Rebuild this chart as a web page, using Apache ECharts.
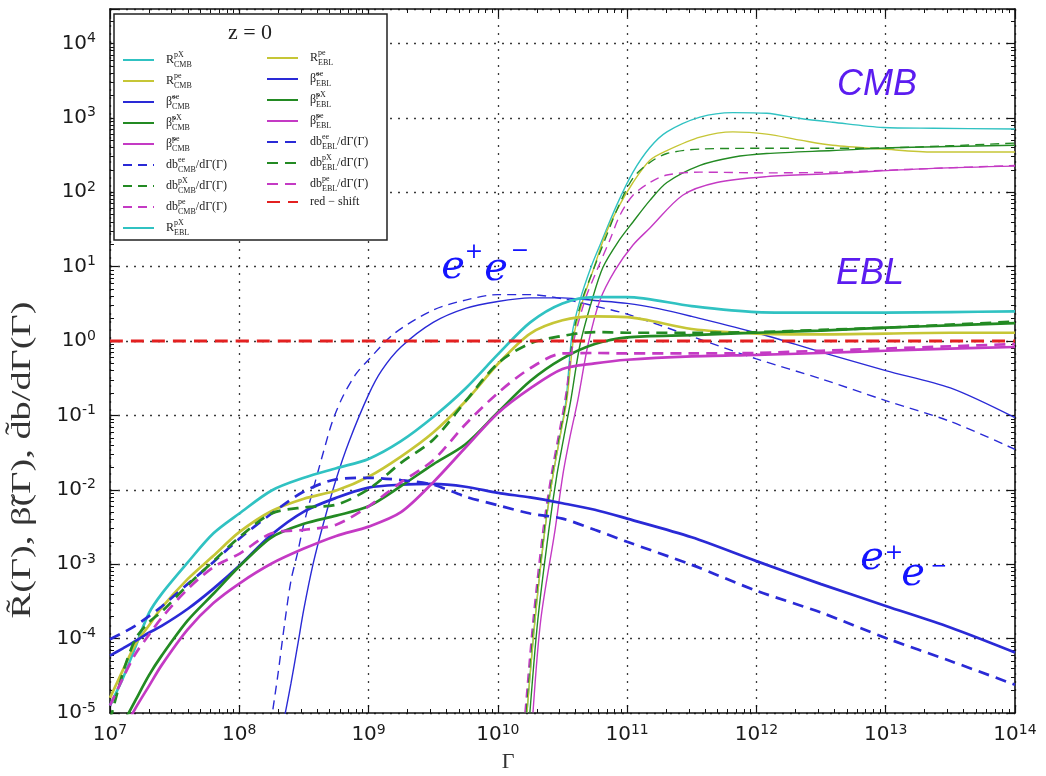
<!DOCTYPE html>
<html>
<head>
<meta charset="utf-8">
<script src="https://cdn.jsdelivr.net/npm/echarts@6/dist/echarts.min.js"></script>
<style>
  html, body { margin: 0; padding: 0; background: #fff; }
  #chart { width: 1046px; height: 776px; }
</style>
</head>
<body>
<div id="chart"></div>
<script>
// ---- Lorentz factor grid shared by the EBL curves ----
const gammaEBL = [1e7, 1.26e7, 1.58e7, 2.0e7, 2.51e7, 3.98e7, 6.31e7, 1e8, 1.78e8, 3.16e8, 5.62e8,
  1e9, 1.78e9, 3.16e9, 5.62e9, 1e10, 1.78e10, 3.16e10, 5.62e10, 1e11, 3.16e11, 1e12, 3.16e12,
  1e13, 3.16e13, 1e14];

const R_pX_EBL = [1.26e-5, 2.95e-5, 7.9e-5, 2.2e-4, 4.0e-4, 1.05e-3, 2.6e-3, 4.8e-3, 9.8e-3, 1.45e-2, 1.95e-2,
  2.6e-2, 4.5e-2, 9.5e-2, 0.23, 0.66, 1.78, 3.2, 3.9, 3.9, 2.95, 2.45, 2.4, 2.4, 2.45, 2.5];
const R_pe_EBL = [1.6e-5, 3.8e-5, 8.5e-5, 1.5e-4, 2.6e-4, 6.3e-4, 1.3e-3, 2.7e-3, 5.2e-3, 7.6e-3, 9.8e-3,
  1.5e-2, 2.8e-2, 5.9e-2, 0.155, 0.49, 1.26, 1.9, 2.14, 2.1, 1.45, 1.26, 1.23, 1.26, 1.29, 1.29];
const beta_pX_EBL = [3.2e-6, 7.1e-6, 1.5e-5, 3.2e-5, 5.9e-5, 1.74e-4, 4.0e-4, 9.3e-4, 2.3e-3, 3.5e-3, 4.5e-3,
  6.0e-3, 1.12e-2, 2.2e-2, 4.1e-2, 0.11, 0.29, 0.58, 0.91, 1.12, 1.2, 1.29, 1.38, 1.51, 1.62, 1.74];
const db_pX_EBL = [7.9e-6, 3.5e-5, 1.0e-4, 1.66e-4, 2.3e-4, 5.2e-4, 1.1e-3, 2.3e-3, 4.8e-3, 5.8e-3, 6.3e-3,
  1.02e-2, 2.3e-2, 4.7e-2, 0.155, 0.5, 0.93, 1.17, 1.32, 1.29, 1.29, 1.32, 1.41, 1.51, 1.66, 1.82];
const beta_pe_EBL = [2.5e-6, 5.6e-6, 1.17e-5, 2.3e-5, 4.4e-5, 1.32e-4, 3.0e-4, 5.5e-4, 1.02e-3, 1.62e-3, 2.4e-3,
  3.2e-3, 5.0e-3, 1.26e-2, 3.7e-2, 0.107, 0.23, 0.42, 0.5, 0.56, 0.62, 0.65, 0.69, 0.74, 0.79, 0.83];
const db_pe_EBL = [1.26e-5, 2.95e-5, 6.3e-5, 1.12e-4, 1.9e-4, 4.6e-4, 9.1e-4, 1.38e-3, 2.6e-3, 2.9e-3, 3.4e-3,
  6.0e-3, 1.26e-2, 2.5e-2, 7.6e-2, 0.2, 0.43, 0.68, 0.69, 0.68, 0.68, 0.69, 0.74, 0.79, 0.85, 0.91];
const beta_ee_EBL = [5.9e-5, 7.4e-5, 9.3e-5, 1.2e-4, 1.48e-4, 2.5e-4, 4.7e-4, 9.5e-4, 2.5e-3, 5.1e-3, 7.8e-3,
  1.07e-2, 1.17e-2, 1.2e-2, 1.1e-2, 9.1e-3, 7.9e-3, 6.6e-3, 5.4e-3, 4.1e-3, 2.3e-3, 1.1e-3, 5.4e-4,
  2.75e-4, 1.41e-4, 6.5e-5];
const db_ee_EBL = [9.8e-5, 1.2e-4, 1.5e-4, 2.0e-4, 2.7e-4, 5.4e-4, 1.07e-3, 2.2e-3, 4.8e-3, 9.5e-3, 1.38e-2,
  1.45e-2, 1.35e-2, 1.17e-2, 8.1e-3, 6.2e-3, 4.8e-3, 4.1e-3, 2.9e-3, 2.0e-3, 9.8e-4, 4.4e-4, 2.24e-4,
  1.02e-4, 5.0e-5, 2.4e-5];

// ---- CMB curves ----
const gamma_beta_ee_CMB = [2.24e8, 2.51e8, 2.82e8, 3.16e8, 3.72e8, 4.47e8, 5.62e8, 7.08e8, 1e9, 1.26e9, 1.78e9,
  3.16e9, 5.62e9, 1e10, 1.78e10, 3.16e10, 5.62e10, 1e11, 1.78e11, 3.16e11, 1e12, 3.16e12, 1e13, 3.16e13, 1e14];
const beta_ee_CMB = [8.9e-6, 2.5e-5, 7.9e-5, 2.5e-4, 1e-3, 3.5e-3, 1.4e-2, 4.5e-2, 0.19, 0.4, 0.83,
  1.78, 2.75, 3.4, 3.8, 3.8, 3.5, 3.2, 2.7, 2.14, 1.29, 0.71, 0.4, 0.234, 0.093];

const gamma_db_ee_CMB = [1.82e8, 2.0e8, 2.24e8, 2.51e8, 2.82e8, 3.16e8, 3.72e8, 4.47e8, 5.25e8, 6.31e8, 7.94e8,
  1e9, 1.58e9, 3.16e9, 5.62e9, 1e10, 1.78e10, 3.16e10, 5.62e10, 1e11, 3.16e11, 1e12, 3.16e12, 1e13, 3.16e13, 1e14];
const db_ee_CMB = [1.12e-5, 3.5e-5, 1.58e-4, 6.0e-4, 1.41e-3, 3.5e-3, 1e-2, 3.2e-2, 8.3e-2, 0.178, 0.355,
  0.56, 1.26, 2.6, 3.55, 4.2, 4.2, 3.7, 2.95, 2.3, 1.15, 0.575, 0.31, 0.158, 0.083, 0.035];

const gamma_R_pX_CMB = [1.68e10, 1.94e10, 2.31e10, 2.67e10, 3.02e10, 3.37e10, 3.74e10, 4.32e10, 5.25e10, 6.17e10,
  8.34e10, 1.11e11, 1.5e11, 2.03e11, 3.66e11, 6.58e11, 1.2e12, 2.19e12, 3.89e12, 9.55e12, 2.34e13, 1e14];
const R_pX_CMB = [1.02e-5, 1.82e-4, 2.9e-3, 1.58e-2, 5.1e-2, 0.162, 1.2, 3.55, 9.8, 19.5,
  68, 186, 398, 646, 1020, 1175, 1150, 977, 871, 741, 724, 708];

const gamma_R_pe_CMB = [1.68e10, 1.94e10, 2.31e10, 2.67e10, 3.02e10, 3.42e10, 3.88e10, 4.55e10, 5.45e10, 6.73e10,
  8.34e10, 1.11e11, 1.5e11, 2.03e11, 3.66e11, 6.58e11, 1.2e12, 2.19e12, 3.89e12, 9.55e12, 2.34e13, 1e14];
const R_pe_CMB = [1.02e-5, 1.82e-4, 2.9e-3, 1.58e-2, 5.1e-2, 0.162, 1.2, 3.55, 8.9, 26,
  58, 135, 269, 363, 550, 646, 603, 501, 427, 380, 347, 347];

const gamma_beta_pX_CMB = [1.77e10, 2.04e10, 2.48e10, 2.86e10, 3.24e10, 3.67e10, 4.32e10, 5.35e10, 6.5e10, 8.49e10,
  1.11e11, 1.5e11, 2.03e11, 3.66e11, 6.58e11, 1.2e12, 3.89e12, 1.29e13, 1e14];
const beta_pX_CMB = [1.02e-5, 1.82e-4, 2.9e-3, 1.58e-2, 5.1e-2, 0.162, 0.89, 3.55, 9.8, 21.4,
  39.8, 77.6, 135, 229, 295, 331, 363, 398, 427];

const gamma_db_pX_CMB = [1.65e10, 1.9e10, 2.28e10, 2.62e10, 2.97e10, 3.37e10, 3.81e10, 4.48e10, 5.45e10, 6.73e10,
  8.34e10, 1.11e11, 1.5e11, 2.03e11, 3.66e11, 1.2e12, 3.89e12, 1.29e13, 1e14];
const db_pX_CMB = [1.02e-5, 1.82e-4, 2.9e-3, 1.58e-2, 5.1e-2, 0.162, 1.2, 3.55, 8.9, 22.9,
  58, 155, 251, 331, 380, 389, 389, 398, 457];

const gamma_beta_pe_CMB = [1.87e10, 2.15e10, 2.77e10, 3.18e10, 3.61e10, 4.16e10, 4.98e10, 6.17e10, 8.05e10,
  1.11e11, 1.5e11, 2.69e11, 4.94e11, 1.2e12, 3.89e12, 2.34e13, 1e14];
const beta_pe_CMB = [1.02e-5, 1.82e-4, 2.9e-3, 1.58e-2, 5.1e-2, 0.162, 0.89, 3.55, 8.9,
  19.5, 33, 91, 135, 162, 178, 209, 224];

const gamma_db_pe_CMB = [1.62e10, 1.87e10, 2.23e10, 2.58e10, 2.92e10, 3.3e10, 3.81e10, 4.72e10, 5.83e10, 7.36e10,
  8.79e10, 1.11e11, 1.5e11, 2.03e11, 3.66e11, 1.2e12, 3.89e12, 2.34e13, 1e14];
const db_pe_CMB = [1.02e-5, 1.82e-4, 2.9e-3, 1.58e-2, 5.1e-2, 0.162, 0.89, 3.55, 8.9, 22.9,
  49, 91, 135, 170, 186, 182, 186, 209, 229];

// ---- red-shift reference level ----
const gamma_redshift = [1e7, 1e14];
const redshift = [1, 1];

// ---- axis ranges ----
const gammaRange = [1e7, 1e14];
const valueRange = [1e-5, 2.9e4];

// ---- styling ----
const C = {
  cyan: '#30c2c2', yellow: '#c6c636', blue: '#2a2ad6', green: '#238a23', magenta: '#c43ac4', red: '#e32020'
};
const THIN = 1.4, THICK = 2.7;
const DASH_THIN = [9, 6], DASH_THICK = [11, 7];
const SERIF = "'Liberation Serif','DejaVu Serif',serif";
const SANS = "'DejaVu Sans','Liberation Sans',sans-serif";

function pairs(g, v) { return g.map((x, i) => [x, v[i]]); }

function curve(name, g, v, color, width, dash) {
  return {
    name: name, type: 'line', data: pairs(g, v),
    symbol: 'none', showSymbol: false, smooth: 0.3,
    color: color, silent: true, clip: true,
    lineStyle: { color: color, width: width, type: dash || 'solid' },
    emphasis: { disabled: true }
  };
}

// Legend names use "base|super|sub|tail" so the label can stack indices.
const series = [
  curve('R|pX|CMB|', gamma_R_pX_CMB, R_pX_CMB, C.cyan, THIN),
  curve('R|pe|CMB|', gamma_R_pe_CMB, R_pe_CMB, C.yellow, THIN),
  curve('β̃|ee|CMB|', gamma_beta_ee_CMB, beta_ee_CMB, C.blue, THIN),
  curve('β̃|pX|CMB|', gamma_beta_pX_CMB, beta_pX_CMB, C.green, THIN),
  curve('β̃|pe|CMB|', gamma_beta_pe_CMB, beta_pe_CMB, C.magenta, THIN),
  curve('db|ee|CMB|/dΓ(Γ)', gamma_db_ee_CMB, db_ee_CMB, C.blue, THIN, DASH_THIN),
  curve('db|pX|CMB|/dΓ(Γ)', gamma_db_pX_CMB, db_pX_CMB, C.green, THIN, DASH_THIN),
  curve('db|pe|CMB|/dΓ(Γ)', gamma_db_pe_CMB, db_pe_CMB, C.magenta, THIN, DASH_THIN),
  curve('R|pX|EBL|', gammaEBL, R_pX_EBL, C.cyan, THICK),
  curve('R|pe|EBL|', gammaEBL, R_pe_EBL, C.yellow, THICK),
  curve('β̃|ee|EBL|', gammaEBL, beta_ee_EBL, C.blue, THICK),
  curve('β̃|pX|EBL|', gammaEBL, beta_pX_EBL, C.green, THICK),
  curve('β̃|pe|EBL|', gammaEBL, beta_pe_EBL, C.magenta, THICK),
  curve('db|ee|EBL|/dΓ(Γ)', gammaEBL, db_ee_EBL, C.blue, THICK, DASH_THICK),
  curve('db|pX|EBL|/dΓ(Γ)', gammaEBL, db_pX_EBL, C.green, THICK, DASH_THICK),
  curve('db|pe|EBL|/dΓ(Γ)', gammaEBL, db_pe_EBL, C.magenta, THICK, DASH_THICK),
  curve('red − shift', gamma_redshift, redshift, C.red, 3.2, [13, 8])
];
const names = series.map(s => s.name);

function legendLabel(name) {
  const p = name.split('|');
  if (p.length === 1) return '{b|' + name + '}';
  return '{b|' + p[0] + '}{p|' + p[1] + '}{q|' + p[2] + '}' + (p[3] ? '{b|' + p[3] + '}' : '');
}
const legendRich = {
  b: { fontFamily: SERIF, fontSize: 12, lineHeight: 18, color: '#222' },
  p: { fontFamily: SERIF, fontSize: 8, lineHeight: 9, color: '#222', verticalAlign: 'top', width: 0.01 },
  q: { fontFamily: SERIF, fontSize: 8, lineHeight: 9, color: '#222', verticalAlign: 'bottom' }
};
function legendBlock(data, left, top) {
  return {
    data: data, left: left, top: top, orient: 'vertical', padding: 0,
    itemWidth: 31, itemHeight: 12, itemGap: 3, selectedMode: false, z: 20,
    itemStyle: { opacity: 0 },
    formatter: legendLabel,
    textStyle: { rich: legendRich, padding: [0, 0, 0, 7] }
  };
}

function expLabel(v) { return '{b|10}{s|' + Math.round(Math.log10(v)) + '}'; }
const tickRich = {
  b: { fontFamily: SANS, fontSize: 20, lineHeight: 24, color: '#1a1a1a' },
  s: { fontFamily: SANS, fontSize: 14, lineHeight: 14, color: '#1a1a1a', verticalAlign: 'top' }
};
const gridLine = { show: true, lineStyle: { color: '#3a3a3a', width: 1.3, type: [2, 6] } };
const frameLine = { show: true, lineStyle: { color: '#111', width: 1.6 } };
const majorTick = { show: true, inside: true, length: 8, lineStyle: { color: '#111', width: 1.2 } };
const minorTick = { show: true, splitNumber: 9, length: 4, lineStyle: { color: '#111', width: 1 } };

const chart = echarts.init(document.getElementById('chart'), null, { renderer: 'canvas' });
chart.setOption({
  animation: false,
  backgroundColor: '#fff',
  grid: { left: 110, right: 31, top: 9, bottom: 63, containLabel: false },
  xAxis: [
    { type: 'log', logBase: 10, min: gammaRange[0], max: gammaRange[1], splitNumber: 7,
      axisLine: frameLine, axisTick: majorTick, minorTick: Object.assign({ inside: true }, minorTick),
      splitLine: gridLine,
      axisLabel: { margin: 10, formatter: expLabel, rich: tickRich } },
    { type: 'log', logBase: 10, min: gammaRange[0], max: gammaRange[1], splitNumber: 7, position: 'top',
      axisLine: frameLine, axisTick: majorTick, minorTick: Object.assign({ inside: true }, minorTick),
      splitLine: { show: false }, axisLabel: { show: false } }
  ],
  yAxis: [
    { type: 'log', logBase: 10, min: valueRange[0], max: valueRange[1], splitNumber: 10,
      axisLine: frameLine, axisTick: majorTick, minorTick: Object.assign({ inside: true }, minorTick),
      splitLine: gridLine,
      axisLabel: { margin: 14, formatter: expLabel, rich: tickRich, showMaxLabel: false } },
    { type: 'log', logBase: 10, min: valueRange[0], max: valueRange[1], splitNumber: 10, position: 'right',
      axisLine: frameLine, axisTick: majorTick, minorTick: Object.assign({ inside: true }, minorTick),
      splitLine: { show: false }, axisLabel: { show: false } }
  ],
  legend: [legendBlock(names.slice(0, 9), 122, 51), legendBlock(names.slice(9), 266, 49)],
  graphic: [
    { type: 'rect', z: 10, shape: { x: 114, y: 14, width: 273, height: 226 },
      style: { fill: '#fff', stroke: '#222', lineWidth: 1.5 } },
    { type: 'text', z: 11, x: 250, y: 33,
      style: { text: 'z = 0', font: '22px ' + SERIF, fill: '#222', align: 'center', verticalAlign: 'middle' } },
    { type: 'text', z: 11, x: 23, y: 460, rotation: Math.PI / 2, scaleX: 1.42,
      style: { text: 'R̃(Γ), β̃(Γ), d̃b/dΓ(Γ)', font: '27px ' + SERIF, fill: '#333', align: 'center', verticalAlign: 'middle' } },
    { type: 'text', z: 11, x: 508, y: 762,
      style: { text: 'Γ', font: '22px ' + SERIF, fill: '#333', align: 'center', verticalAlign: 'middle' } },
    { type: 'text', z: 11, x: 877, y: 85,
      style: { text: 'CMB', font: 'italic 36px ' + "'Liberation Sans',sans-serif", fill: '#5b1cf0', align: 'center', verticalAlign: 'middle' } },
    { type: 'text', z: 11, x: 870, y: 274,
      style: { text: 'EBL', font: 'italic 36px ' + "'Liberation Sans',sans-serif", fill: '#5b1cf0', align: 'center', verticalAlign: 'middle' } },
    { type: 'text', z: 11, x: 453, y: 268, style: { text: 'e', font: 'italic 40px ' + "'DejaVu Serif',serif", fill: '#1414ff', align: 'center', verticalAlign: 'middle' } },
    { type: 'text', z: 11, x: 474, y: 252, style: { text: '+', font: '22px ' + "'DejaVu Sans',sans-serif", fill: '#1414ff', align: 'center', verticalAlign: 'middle' } },
    { type: 'text', z: 11, x: 496, y: 270, style: { text: 'e', font: 'italic 40px ' + "'DejaVu Serif',serif", fill: '#1414ff', align: 'center', verticalAlign: 'middle' } },
    { type: 'text', z: 11, x: 520, y: 251, style: { text: '−', font: '22px ' + "'DejaVu Sans',sans-serif", fill: '#1414ff', align: 'center', verticalAlign: 'middle' } },
    { type: 'text', z: 11, x: 872, y: 559, style: { text: 'e', font: 'italic 40px ' + "'DejaVu Serif',serif", fill: '#1414ff', align: 'center', verticalAlign: 'middle' } },
    { type: 'text', z: 11, x: 894, y: 553, style: { text: '+', font: '22px ' + "'DejaVu Sans',sans-serif", fill: '#1414ff', align: 'center', verticalAlign: 'middle' } },
    { type: 'text', z: 11, x: 913, y: 575, style: { text: 'e', font: 'italic 40px ' + "'DejaVu Serif',serif", fill: '#1414ff', align: 'center', verticalAlign: 'middle' } },
    { type: 'text', z: 11, x: 939, y: 567, style: { text: '−', font: '20px ' + "'DejaVu Sans',sans-serif", fill: '#1414ff', align: 'center', verticalAlign: 'middle' } }
  ],
  series: series
});
</script>
</body>
</html>
